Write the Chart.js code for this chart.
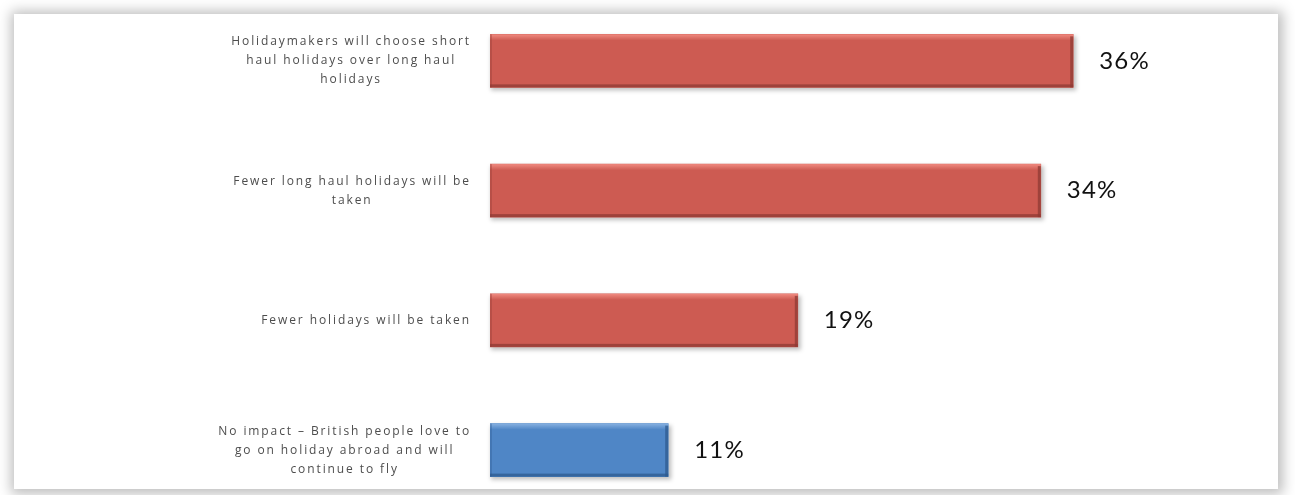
<!DOCTYPE html>
<html>
<head>
<meta charset="utf-8">
<script src="https://cdn.jsdelivr.net/npm/chart.js@4/dist/chart.umd.min.js"></script>
<style>
    html, body { margin: 0; padding: 0; background: #fff; overflow: hidden; }
    body { width: 1295px; height: 495px; position: relative; }
    .card {
        position: absolute; left: 14px; top: 14px; width: 1264px; height: 475px;
        background: #fff;
        box-shadow: 1px 1px 12px 4px rgba(0, 0, 0, 0.26);
    }
    .plot { position: absolute; left: 0; top: -4px; width: 1295px; height: 519px; }
</style>
</head>
<body>
<div class="card"></div>
<div class="plot"><canvas id="impactChart" width="1295" height="519"></canvas></div>
<script>
const categories = [
    ['Holidaymakers will choose short', 'haul holidays over long haul', 'holidays'],
    ['Fewer long haul holidays will be', 'taken'],
    ['Fewer holidays will be taken'],
    ['No impact \u2013 British people love to', 'go on holiday abroad and will', 'continue to fly']
];
const shares = [36, 34, 19, 11];
const barColors = ['#CD5B52', '#CD5B52', '#CD5B52', '#4F86C6'];
const lightEdge = ['#F08A80', '#F08A80', '#F08A80', '#86B0E0'];
const darkEdge = ['#8E3A34', '#8E3A34', '#8E3A34', '#2E5A8E'];

// soft shadow under each bar, then the bevel highlight and dark edges on top
const bevel = {
    id: 'bevel',
    beforeDatasetsDraw(chart) {
        const ctx = chart.ctx;
        ctx.save();
        ctx.filter = 'blur(2px)';
        ctx.fillStyle = 'rgba(0,0,0,0.25)';
        chart.getDatasetMeta(0).data.forEach(bar => {
            const { x, y, base, height } = bar.getProps(['x', 'y', 'base', 'height'], true);
            ctx.fillRect(base + 1, y - height / 2 + 2, x - base + 2, height + 1);
        });
        ctx.restore();
    },
    afterDatasetsDraw(chart) {
        const ctx = chart.ctx;
        ctx.save();
        chart.getDatasetMeta(0).data.forEach((bar, i) => {
            const { x, y, base, height } = bar.getProps(['x', 'y', 'base', 'height'], true);
            const top = y - height / 2;
            const bottom = y + height / 2;
            const g = ctx.createLinearGradient(0, top, 0, top + 6);
            g.addColorStop(0, lightEdge[i]);
            g.addColorStop(1, barColors[i]);
            ctx.fillStyle = g;
            ctx.fillRect(base, top, x - base, 6);
            ctx.fillStyle = darkEdge[i];
            ctx.globalAlpha = 0.75;
            ctx.fillRect(base, bottom - 3, x - base, 3);
            ctx.fillRect(x - 3, top + 2, 3, height - 2);
            ctx.globalAlpha = 0.35;
            ctx.fillRect(base, top, 2, height);
            ctx.globalAlpha = 1;
        });
        ctx.restore();
    }
};

// category text, centred line by line and right-aligned against the bars
const categoryLabels = {
    id: 'categoryLabels',
    afterDraw(chart) {
        const ctx = chart.ctx;
        const yScale = chart.scales.y;
        ctx.save();
        ctx.font = '12px "Open Sans"';
        ctx.letterSpacing = '1.9px';
        ctx.fillStyle = '#4d4d4d';
        ctx.textAlign = 'center';
        ctx.textBaseline = 'middle';
        categories.forEach((lines, i) => {
            const yPix = yScale.getPixelForTick(i);
            const widest = Math.max(...lines.map(l => ctx.measureText(l).width));
            const cx = 471 - widest / 2;
            const lh = 19;
            lines.forEach((line, j) => {
                ctx.fillText(line, cx, yPix + (j - (lines.length - 1) / 2) * lh);
            });
        });
        ctx.restore();
    }
};

const valueLabels = {
    id: 'valueLabels',
    afterDraw(chart) {
        const ctx = chart.ctx;
        const xScale = chart.scales.x;
        const yScale = chart.scales.y;
        ctx.save();
        ctx.font = '24px Lato';
        ctx.letterSpacing = '1.2px';
        ctx.fillStyle = '#111';
        ctx.textAlign = 'left';
        ctx.textBaseline = 'middle';
        shares.forEach((v, i) => {
            ctx.fillText(v + '%', xScale.getPixelForValue(v) + 26, yScale.getPixelForTick(i));
        });
        ctx.restore();
    }
};

new Chart(document.getElementById('impactChart').getContext('2d'), {
    type: 'bar',
    data: {
        labels: categories,
        datasets: [{
            data: shares,
            backgroundColor: barColors,
            borderWidth: 0,
            barThickness: 53
        }]
    },
    options: {
        indexAxis: 'y',
        responsive: false,
        animation: false,
        layout: { padding: { left: 490, right: 157, top: 0, bottom: 0 } },
        plugins: {
            legend: { display: false },
            tooltip: { enabled: false }
        },
        scales: {
            x: { display: false, min: 0, max: 40 },
            y: { display: false }
        }
    },
    plugins: [bevel, categoryLabels, valueLabels]
});
</script>
</body>
</html>
